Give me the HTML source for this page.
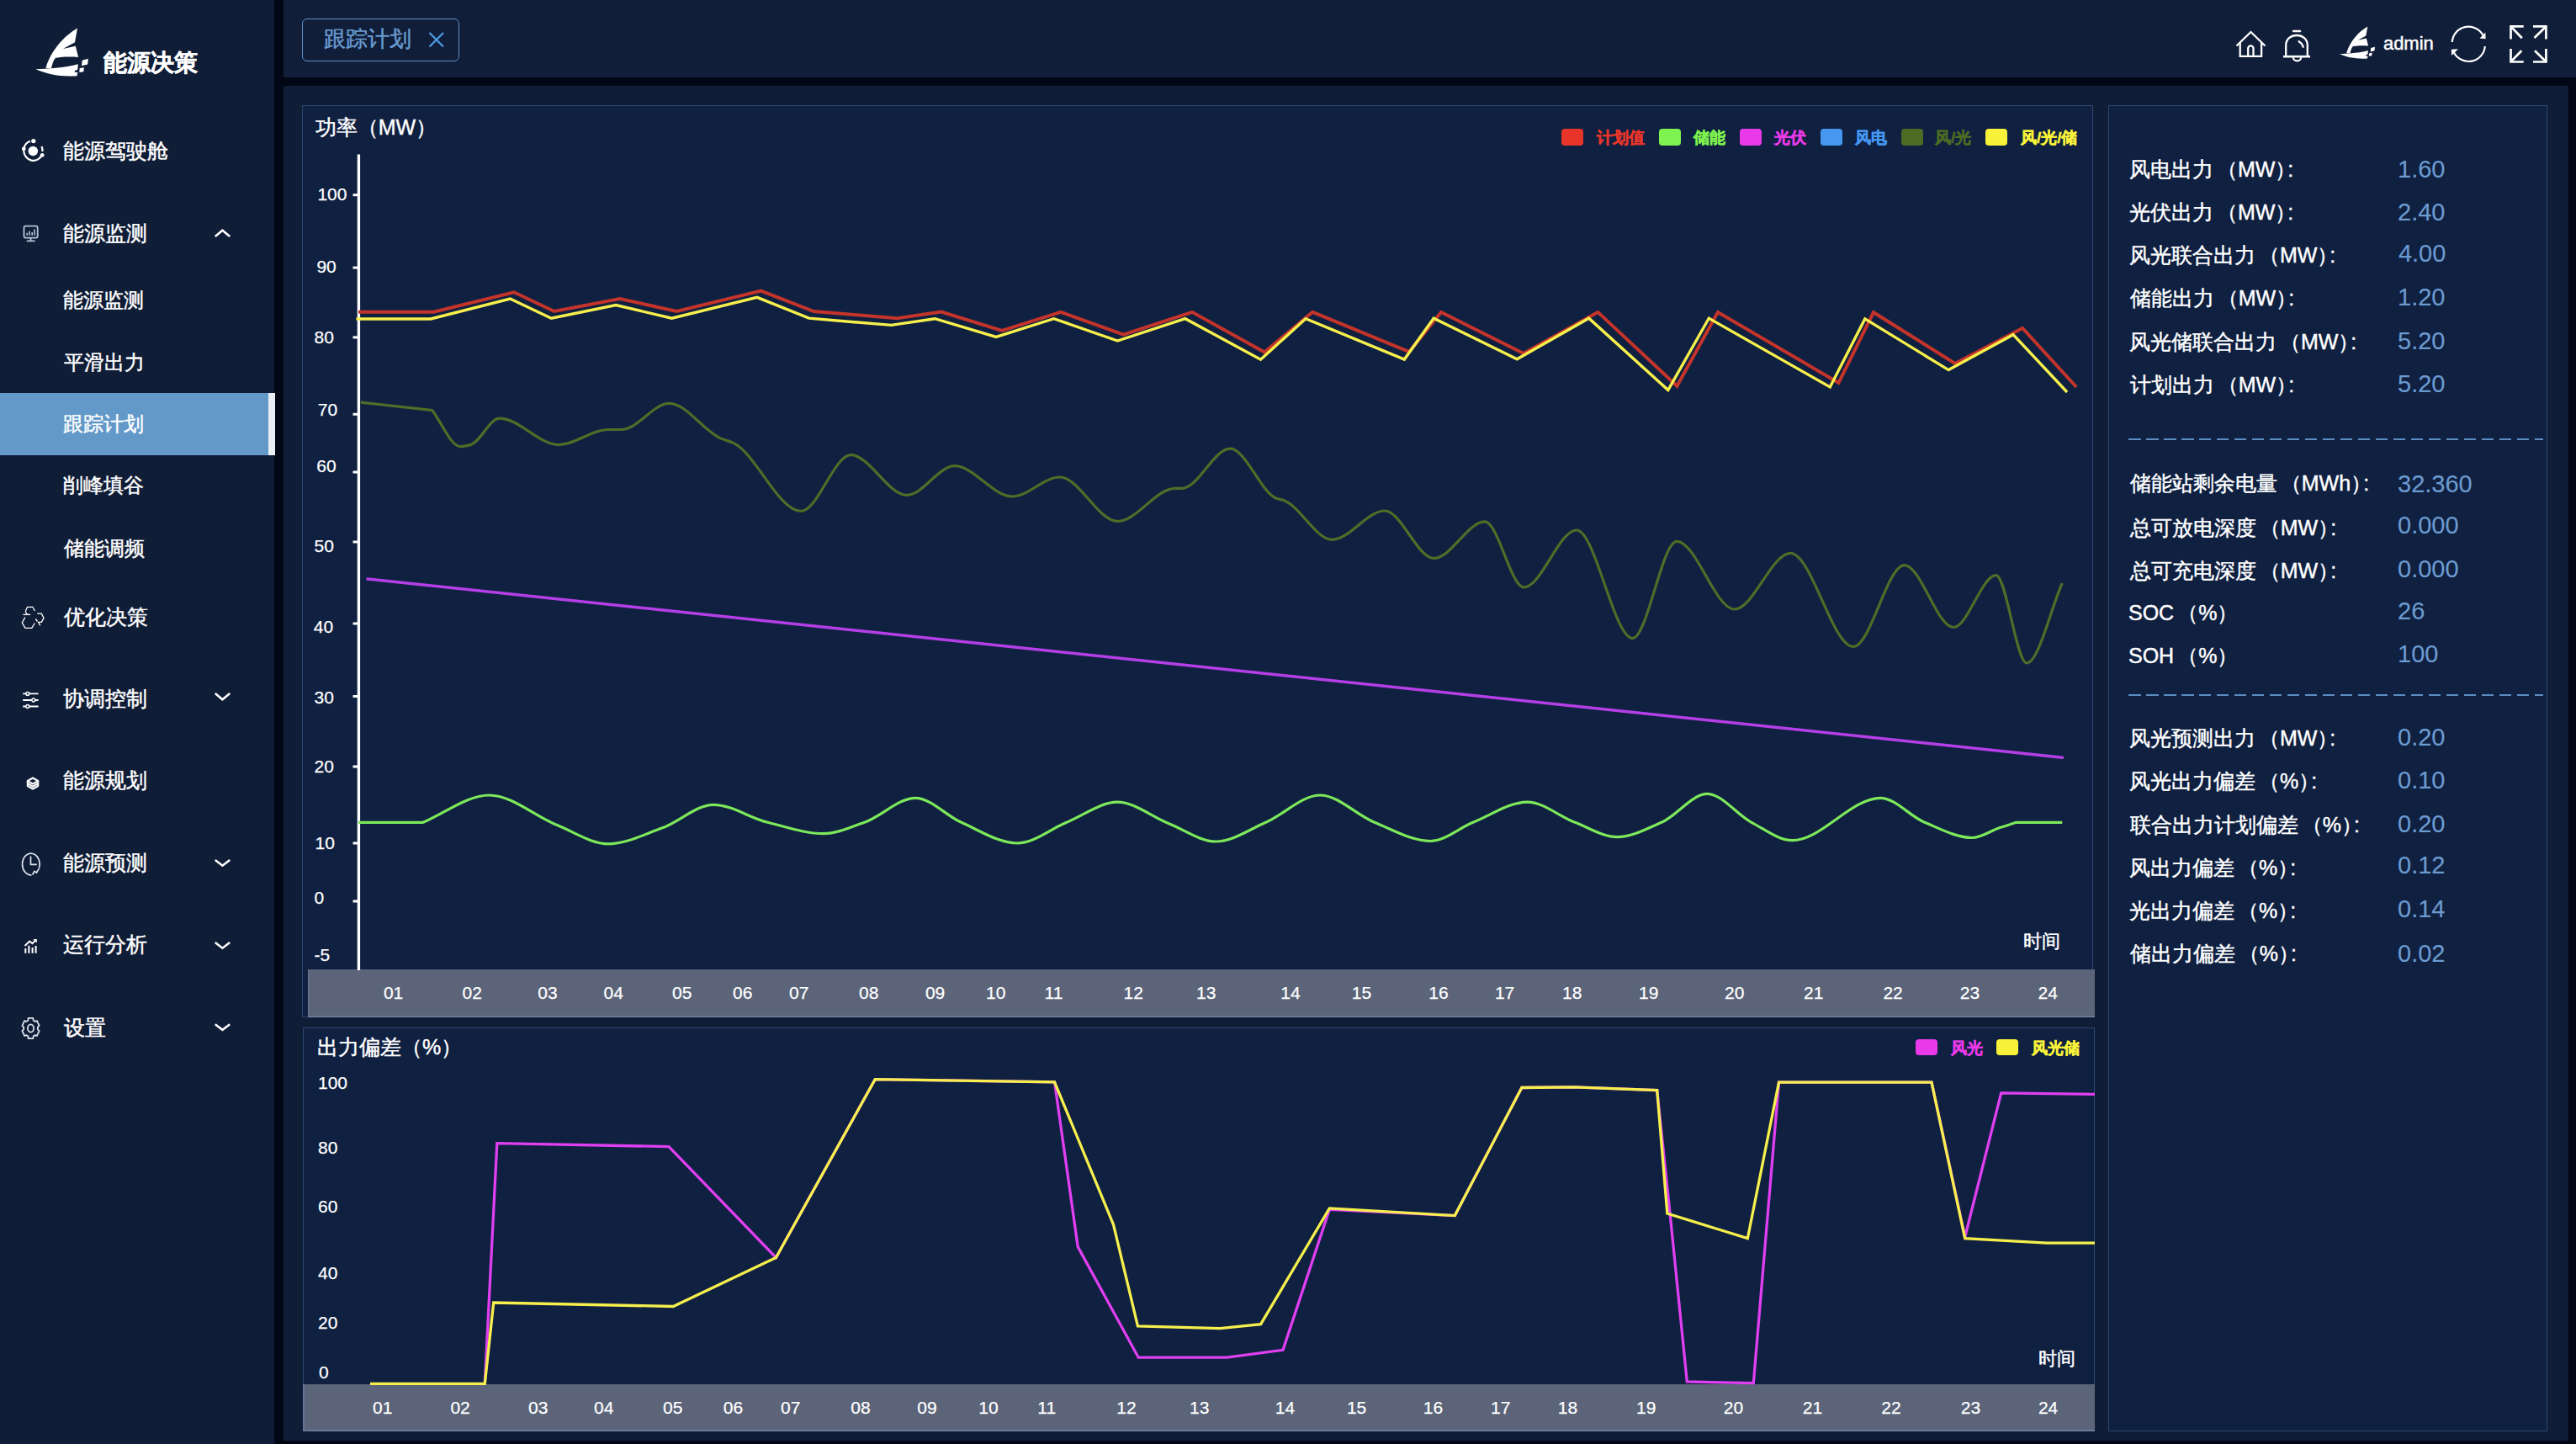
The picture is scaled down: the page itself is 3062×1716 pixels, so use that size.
<!DOCTYPE html>
<html><head><meta charset="utf-8"><title>跟踪计划</title>
<style>
html,body{margin:0;padding:0;width:3062px;height:1716px;overflow:hidden;background:#020716;}
.t{position:absolute;white-space:nowrap;font-family:'Liberation Sans', sans-serif;-webkit-text-stroke:0.45px currentColor;}
.r{position:absolute;}
.ov{position:absolute;left:0;top:0;}
</style></head><body>
<div class="r" style="left:0px;top:0px;width:3062px;height:1716px;background:#020716;"></div>
<div class="r" style="left:0px;top:0px;width:326px;height:1716px;background:#101d37;"></div>
<div class="r" style="left:337px;top:0px;width:2725px;height:92px;background:#111e39;"></div>
<div class="r" style="left:337px;top:102px;width:2716px;height:1610px;background:#101d37;"></div>
<div class="r" style="left:359px;top:125px;width:2129px;height:1084px;background:#0f2041;box-shadow: inset 0 0 0 1px #2d4873;"></div>
<div class="r" style="left:360px;top:1221px;width:2130px;height:480px;background:#0f2041;box-shadow: inset 0 0 0 1px #2d4873;"></div>
<div class="r" style="left:2506px;top:125px;width:522px;height:1576px;background:#0f2041;box-shadow: inset 0 0 0 1px #2d4873;"></div>
<div class="r" style="left:366px;top:1152px;width:2124px;height:57px;background:#5b6479;box-shadow: inset 1px 0 0 0 #6a7896, inset 0 -1.5px 0 0 #7081a1;"></div>
<div class="r" style="left:360px;top:1645px;width:2130px;height:56px;background:#5b6479;box-shadow: inset 2px 0 0 0 #66759a, inset 0 -1.5px 0 0 #7383a3;"></div>
<div class="r" style="left:0px;top:467px;width:319px;height:74px;background:#6399c9;"></div>
<div class="r" style="left:319px;top:467px;width:8px;height:74px;background:#e9eef4;"></div>
<div id="t1" class="t" style="left:122.8px;top:60.0px;font-size:28.2px;line-height:28.2px;color:#ffffff;font-weight:bold;">能源决策</div>
<div id="t2" class="t" style="left:74.5px;top:167.1px;font-size:25.4px;line-height:25.4px;color:#ffffff;font-weight:normal;">能源驾驶舱</div>
<div id="t3" class="t" style="left:74.5px;top:265.3px;font-size:25.4px;line-height:25.4px;color:#ffffff;font-weight:normal;">能源监测</div>
<div id="t4" class="t" style="left:74.9px;top:344.7px;font-size:24px;line-height:24px;color:#ffffff;font-weight:normal;">能源监测</div>
<div id="t5" class="t" style="left:75.8px;top:419.2px;font-size:24px;line-height:24px;color:#ffffff;font-weight:normal;">平滑出力</div>
<div id="t6" class="t" style="left:74.9px;top:491.6px;font-size:24px;line-height:24px;color:#ffffff;font-weight:normal;">跟踪计划</div>
<div id="t7" class="t" style="left:74.9px;top:565.3px;font-size:24px;line-height:24px;color:#ffffff;font-weight:normal;">削峰填谷</div>
<div id="t8" class="t" style="left:75.8px;top:639.8px;font-size:24px;line-height:24px;color:#ffffff;font-weight:normal;">储能调频</div>
<div id="t9" class="t" style="left:76.3px;top:720.7px;font-size:25.4px;line-height:25.4px;color:#ffffff;font-weight:normal;">优化决策</div>
<div id="t10" class="t" style="left:75.4px;top:818.3px;font-size:25.4px;line-height:25.4px;color:#ffffff;font-weight:normal;">协调控制</div>
<div id="t11" class="t" style="left:75.4px;top:915.3px;font-size:25.4px;line-height:25.4px;color:#ffffff;font-weight:normal;">能源规划</div>
<div id="t12" class="t" style="left:75.4px;top:1012.7px;font-size:25.4px;line-height:25.4px;color:#ffffff;font-weight:normal;">能源预测</div>
<div id="t13" class="t" style="left:75.4px;top:1109.8px;font-size:25.4px;line-height:25.4px;color:#ffffff;font-weight:normal;">运行分析</div>
<div id="t14" class="t" style="left:76.3px;top:1209.2px;font-size:25.4px;line-height:25.4px;color:#ffffff;font-weight:normal;">设置</div>
<div class="r" style="left:359px;top:22px;width:187px;height:51px;border:1.5px solid #5d8ec4;border-radius:6px;box-sizing:border-box;"></div>
<div id="t15" class="t" style="left:384.9px;top:33.0px;font-size:26px;line-height:26px;color:#6a9dd2;font-weight:normal;">跟踪计划</div>
<div id="t16" class="t" style="left:2832.9px;top:41.0px;font-size:22px;line-height:22px;color:#ffffff;font-weight:normal;">admin</div>
<div id="t17" class="t" style="left:374.8px;top:139.0px;font-size:25px;line-height:25px;color:#ffffff;font-weight:normal;">功率（MW）</div>
<div id="t18" class="t" style="left:377.4px;top:219.8px;font-size:21px;line-height:21px;color:#ffffff;font-weight:normal;-webkit-text-stroke:0.25px currentColor;">100</div>
<div id="t19" class="t" style="left:376.4px;top:306.2px;font-size:21px;line-height:21px;color:#ffffff;font-weight:normal;-webkit-text-stroke:0.25px currentColor;">90</div>
<div id="t20" class="t" style="left:373.6px;top:389.9px;font-size:21px;line-height:21px;color:#ffffff;font-weight:normal;-webkit-text-stroke:0.25px currentColor;">80</div>
<div id="t21" class="t" style="left:377.8px;top:475.6px;font-size:21px;line-height:21px;color:#ffffff;font-weight:normal;-webkit-text-stroke:0.25px currentColor;">70</div>
<div id="t22" class="t" style="left:376.3px;top:542.6px;font-size:21px;line-height:21px;color:#ffffff;font-weight:normal;-webkit-text-stroke:0.25px currentColor;">60</div>
<div id="t23" class="t" style="left:373.6px;top:638.2px;font-size:21px;line-height:21px;color:#ffffff;font-weight:normal;-webkit-text-stroke:0.25px currentColor;">50</div>
<div id="t24" class="t" style="left:372.8px;top:733.6px;font-size:21px;line-height:21px;color:#ffffff;font-weight:normal;-webkit-text-stroke:0.25px currentColor;">40</div>
<div id="t25" class="t" style="left:373.6px;top:817.8px;font-size:21px;line-height:21px;color:#ffffff;font-weight:normal;-webkit-text-stroke:0.25px currentColor;">30</div>
<div id="t26" class="t" style="left:373.6px;top:900.4px;font-size:21px;line-height:21px;color:#ffffff;font-weight:normal;-webkit-text-stroke:0.25px currentColor;">20</div>
<div id="t27" class="t" style="left:374.6px;top:990.6px;font-size:21px;line-height:21px;color:#ffffff;font-weight:normal;-webkit-text-stroke:0.25px currentColor;">10</div>
<div id="t28" class="t" style="left:373.6px;top:1056.0px;font-size:21px;line-height:21px;color:#ffffff;font-weight:normal;-webkit-text-stroke:0.25px currentColor;">0</div>
<div id="t29" class="t" style="left:373.6px;top:1123.8px;font-size:21px;line-height:21px;color:#ffffff;font-weight:normal;-webkit-text-stroke:0.25px currentColor;">-5</div>
<div id="t30" class="t" style="left:267.6px;width:400px;text-align:center;top:1169.0px;font-size:21px;line-height:21px;color:#ffffff;font-weight:normal;-webkit-text-stroke:0.25px currentColor;">01</div>
<div id="t31" class="t" style="left:361.3px;width:400px;text-align:center;top:1169.0px;font-size:21px;line-height:21px;color:#ffffff;font-weight:normal;-webkit-text-stroke:0.25px currentColor;">02</div>
<div id="t32" class="t" style="left:450.9px;width:400px;text-align:center;top:1169.0px;font-size:21px;line-height:21px;color:#ffffff;font-weight:normal;-webkit-text-stroke:0.25px currentColor;">03</div>
<div id="t33" class="t" style="left:529.2px;width:400px;text-align:center;top:1169.0px;font-size:21px;line-height:21px;color:#ffffff;font-weight:normal;-webkit-text-stroke:0.25px currentColor;">04</div>
<div id="t34" class="t" style="left:610.8px;width:400px;text-align:center;top:1169.0px;font-size:21px;line-height:21px;color:#ffffff;font-weight:normal;-webkit-text-stroke:0.25px currentColor;">05</div>
<div id="t35" class="t" style="left:682.7px;width:400px;text-align:center;top:1169.0px;font-size:21px;line-height:21px;color:#ffffff;font-weight:normal;-webkit-text-stroke:0.25px currentColor;">06</div>
<div id="t36" class="t" style="left:749.7px;width:400px;text-align:center;top:1169.0px;font-size:21px;line-height:21px;color:#ffffff;font-weight:normal;-webkit-text-stroke:0.25px currentColor;">07</div>
<div id="t37" class="t" style="left:832.8px;width:400px;text-align:center;top:1168.6px;font-size:21px;line-height:21px;color:#ffffff;font-weight:normal;-webkit-text-stroke:0.25px currentColor;">08</div>
<div id="t38" class="t" style="left:911.6px;width:400px;text-align:center;top:1169.0px;font-size:21px;line-height:21px;color:#ffffff;font-weight:normal;-webkit-text-stroke:0.25px currentColor;">09</div>
<div id="t39" class="t" style="left:983.8px;width:400px;text-align:center;top:1169.0px;font-size:21px;line-height:21px;color:#ffffff;font-weight:normal;-webkit-text-stroke:0.25px currentColor;">10</div>
<div id="t40" class="t" style="left:1052.5px;width:400px;text-align:center;top:1169.0px;font-size:21px;line-height:21px;color:#ffffff;font-weight:normal;-webkit-text-stroke:0.25px currentColor;">11</div>
<div id="t41" class="t" style="left:1147.3px;width:400px;text-align:center;top:1169.0px;font-size:21px;line-height:21px;color:#ffffff;font-weight:normal;-webkit-text-stroke:0.25px currentColor;">12</div>
<div id="t42" class="t" style="left:1233.8px;width:400px;text-align:center;top:1169.0px;font-size:21px;line-height:21px;color:#ffffff;font-weight:normal;-webkit-text-stroke:0.25px currentColor;">13</div>
<div id="t43" class="t" style="left:1334.0px;width:400px;text-align:center;top:1169.0px;font-size:21px;line-height:21px;color:#ffffff;font-weight:normal;-webkit-text-stroke:0.25px currentColor;">14</div>
<div id="t44" class="t" style="left:1418.5px;width:400px;text-align:center;top:1169.0px;font-size:21px;line-height:21px;color:#ffffff;font-weight:normal;-webkit-text-stroke:0.25px currentColor;">15</div>
<div id="t45" class="t" style="left:1510.0px;width:400px;text-align:center;top:1169.0px;font-size:21px;line-height:21px;color:#ffffff;font-weight:normal;-webkit-text-stroke:0.25px currentColor;">16</div>
<div id="t46" class="t" style="left:1588.6px;width:400px;text-align:center;top:1169.0px;font-size:21px;line-height:21px;color:#ffffff;font-weight:normal;-webkit-text-stroke:0.25px currentColor;">17</div>
<div id="t47" class="t" style="left:1668.8px;width:400px;text-align:center;top:1169.0px;font-size:21px;line-height:21px;color:#ffffff;font-weight:normal;-webkit-text-stroke:0.25px currentColor;">18</div>
<div id="t48" class="t" style="left:1759.8px;width:400px;text-align:center;top:1169.0px;font-size:21px;line-height:21px;color:#ffffff;font-weight:normal;-webkit-text-stroke:0.25px currentColor;">19</div>
<div id="t49" class="t" style="left:1861.8px;width:400px;text-align:center;top:1169.0px;font-size:21px;line-height:21px;color:#ffffff;font-weight:normal;-webkit-text-stroke:0.25px currentColor;">20</div>
<div id="t50" class="t" style="left:1955.8px;width:400px;text-align:center;top:1169.0px;font-size:21px;line-height:21px;color:#ffffff;font-weight:normal;-webkit-text-stroke:0.25px currentColor;">21</div>
<div id="t51" class="t" style="left:2050.1px;width:400px;text-align:center;top:1169.0px;font-size:21px;line-height:21px;color:#ffffff;font-weight:normal;-webkit-text-stroke:0.25px currentColor;">22</div>
<div id="t52" class="t" style="left:2141.5px;width:400px;text-align:center;top:1169.0px;font-size:21px;line-height:21px;color:#ffffff;font-weight:normal;-webkit-text-stroke:0.25px currentColor;">23</div>
<div id="t53" class="t" style="left:2234.2px;width:400px;text-align:center;top:1169.0px;font-size:21px;line-height:21px;color:#ffffff;font-weight:normal;-webkit-text-stroke:0.25px currentColor;">24</div>
<div id="t54" class="t" style="left:2404.9px;top:1107.9px;font-size:22px;line-height:22px;color:#ffffff;font-weight:normal;">时间</div>
<div class="r" style="left:1856px;top:153px;width:26px;height:20px;background:#e8352a;border-radius:4px;"></div>
<div id="t55" class="t" style="left:1897.9px;top:153.5px;font-size:19px;line-height:19px;color:#e8352a;font-weight:bold;">计划值</div>
<div class="r" style="left:1972px;top:153px;width:26px;height:20px;background:#7ef24e;border-radius:4px;"></div>
<div id="t56" class="t" style="left:2012.9px;top:154.4px;font-size:19px;line-height:19px;color:#7ef24e;font-weight:bold;">储能</div>
<div class="r" style="left:2068px;top:153px;width:26px;height:20px;background:#e83ae8;border-radius:4px;"></div>
<div id="t57" class="t" style="left:2108.9px;top:154.4px;font-size:19px;line-height:19px;color:#e83ae8;font-weight:bold;">光伏</div>
<div class="r" style="left:2164px;top:153px;width:26px;height:20px;background:#4597f0;border-radius:4px;"></div>
<div id="t58" class="t" style="left:2204.9px;top:154.4px;font-size:19px;line-height:19px;color:#4597f0;font-weight:bold;">风电</div>
<div class="r" style="left:2260px;top:153px;width:26px;height:20px;background:#4d6b22;border-radius:4px;"></div>
<div id="t59" class="t" style="left:2300.0px;top:153.5px;font-size:19px;line-height:19px;color:#4d6b22;font-weight:bold;">风/光</div>
<div class="r" style="left:2360px;top:153px;width:26px;height:20px;background:#f9f23a;border-radius:4px;"></div>
<div id="t60" class="t" style="left:2401.9px;top:154.4px;font-size:19px;line-height:19px;color:#f9f23a;font-weight:bold;">风/光/储</div>
<div id="t61" class="t" style="left:377.1px;top:1231.6px;font-size:25px;line-height:25px;color:#ffffff;font-weight:normal;">出力偏差（%）</div>
<div id="t62" class="t" style="left:378.0px;top:1275.6px;font-size:21px;line-height:21px;color:#ffffff;font-weight:normal;-webkit-text-stroke:0.25px currentColor;">100</div>
<div id="t63" class="t" style="left:378.0px;top:1352.5px;font-size:21px;line-height:21px;color:#ffffff;font-weight:normal;-webkit-text-stroke:0.25px currentColor;">80</div>
<div id="t64" class="t" style="left:378.0px;top:1422.9px;font-size:21px;line-height:21px;color:#ffffff;font-weight:normal;-webkit-text-stroke:0.25px currentColor;">60</div>
<div id="t65" class="t" style="left:378.0px;top:1502.3px;font-size:21px;line-height:21px;color:#ffffff;font-weight:normal;-webkit-text-stroke:0.25px currentColor;">40</div>
<div id="t66" class="t" style="left:378.0px;top:1560.7px;font-size:21px;line-height:21px;color:#ffffff;font-weight:normal;-webkit-text-stroke:0.25px currentColor;">20</div>
<div id="t67" class="t" style="left:378.9px;top:1619.5px;font-size:21px;line-height:21px;color:#ffffff;font-weight:normal;-webkit-text-stroke:0.25px currentColor;">0</div>
<div id="t68" class="t" style="left:254.8px;width:400px;text-align:center;top:1662.0px;font-size:21px;line-height:21px;color:#ffffff;font-weight:normal;-webkit-text-stroke:0.25px currentColor;">01</div>
<div id="t69" class="t" style="left:347.1px;width:400px;text-align:center;top:1662.0px;font-size:21px;line-height:21px;color:#ffffff;font-weight:normal;-webkit-text-stroke:0.25px currentColor;">02</div>
<div id="t70" class="t" style="left:439.7px;width:400px;text-align:center;top:1662.0px;font-size:21px;line-height:21px;color:#ffffff;font-weight:normal;-webkit-text-stroke:0.25px currentColor;">03</div>
<div id="t71" class="t" style="left:517.8px;width:400px;text-align:center;top:1662.0px;font-size:21px;line-height:21px;color:#ffffff;font-weight:normal;-webkit-text-stroke:0.25px currentColor;">04</div>
<div id="t72" class="t" style="left:599.8px;width:400px;text-align:center;top:1662.0px;font-size:21px;line-height:21px;color:#ffffff;font-weight:normal;-webkit-text-stroke:0.25px currentColor;">05</div>
<div id="t73" class="t" style="left:671.5px;width:400px;text-align:center;top:1662.0px;font-size:21px;line-height:21px;color:#ffffff;font-weight:normal;-webkit-text-stroke:0.25px currentColor;">06</div>
<div id="t74" class="t" style="left:739.8px;width:400px;text-align:center;top:1662.0px;font-size:21px;line-height:21px;color:#ffffff;font-weight:normal;-webkit-text-stroke:0.25px currentColor;">07</div>
<div id="t75" class="t" style="left:823.0px;width:400px;text-align:center;top:1662.0px;font-size:21px;line-height:21px;color:#ffffff;font-weight:normal;-webkit-text-stroke:0.25px currentColor;">08</div>
<div id="t76" class="t" style="left:902.0px;width:400px;text-align:center;top:1662.0px;font-size:21px;line-height:21px;color:#ffffff;font-weight:normal;-webkit-text-stroke:0.25px currentColor;">09</div>
<div id="t77" class="t" style="left:975.0px;width:400px;text-align:center;top:1662.0px;font-size:21px;line-height:21px;color:#ffffff;font-weight:normal;-webkit-text-stroke:0.25px currentColor;">10</div>
<div id="t78" class="t" style="left:1044.2px;width:400px;text-align:center;top:1662.0px;font-size:21px;line-height:21px;color:#ffffff;font-weight:normal;-webkit-text-stroke:0.25px currentColor;">11</div>
<div id="t79" class="t" style="left:1139.0px;width:400px;text-align:center;top:1662.0px;font-size:21px;line-height:21px;color:#ffffff;font-weight:normal;-webkit-text-stroke:0.25px currentColor;">12</div>
<div id="t80" class="t" style="left:1225.7px;width:400px;text-align:center;top:1662.0px;font-size:21px;line-height:21px;color:#ffffff;font-weight:normal;-webkit-text-stroke:0.25px currentColor;">13</div>
<div id="t81" class="t" style="left:1327.5px;width:400px;text-align:center;top:1662.0px;font-size:21px;line-height:21px;color:#ffffff;font-weight:normal;-webkit-text-stroke:0.25px currentColor;">14</div>
<div id="t82" class="t" style="left:1412.6px;width:400px;text-align:center;top:1662.0px;font-size:21px;line-height:21px;color:#ffffff;font-weight:normal;-webkit-text-stroke:0.25px currentColor;">15</div>
<div id="t83" class="t" style="left:1503.5px;width:400px;text-align:center;top:1662.0px;font-size:21px;line-height:21px;color:#ffffff;font-weight:normal;-webkit-text-stroke:0.25px currentColor;">16</div>
<div id="t84" class="t" style="left:1583.8px;width:400px;text-align:center;top:1662.0px;font-size:21px;line-height:21px;color:#ffffff;font-weight:normal;-webkit-text-stroke:0.25px currentColor;">17</div>
<div id="t85" class="t" style="left:1663.5px;width:400px;text-align:center;top:1662.0px;font-size:21px;line-height:21px;color:#ffffff;font-weight:normal;-webkit-text-stroke:0.25px currentColor;">18</div>
<div id="t86" class="t" style="left:1756.8px;width:400px;text-align:center;top:1662.0px;font-size:21px;line-height:21px;color:#ffffff;font-weight:normal;-webkit-text-stroke:0.25px currentColor;">19</div>
<div id="t87" class="t" style="left:1860.5px;width:400px;text-align:center;top:1662.0px;font-size:21px;line-height:21px;color:#ffffff;font-weight:normal;-webkit-text-stroke:0.25px currentColor;">20</div>
<div id="t88" class="t" style="left:1954.5px;width:400px;text-align:center;top:1662.0px;font-size:21px;line-height:21px;color:#ffffff;font-weight:normal;-webkit-text-stroke:0.25px currentColor;">21</div>
<div id="t89" class="t" style="left:2048.0px;width:400px;text-align:center;top:1662.0px;font-size:21px;line-height:21px;color:#ffffff;font-weight:normal;-webkit-text-stroke:0.25px currentColor;">22</div>
<div id="t90" class="t" style="left:2142.4px;width:400px;text-align:center;top:1662.0px;font-size:21px;line-height:21px;color:#ffffff;font-weight:normal;-webkit-text-stroke:0.25px currentColor;">23</div>
<div id="t91" class="t" style="left:2234.6px;width:400px;text-align:center;top:1662.0px;font-size:21px;line-height:21px;color:#ffffff;font-weight:normal;-webkit-text-stroke:0.25px currentColor;">24</div>
<div id="t92" class="t" style="left:2423.0px;top:1603.8px;font-size:22px;line-height:22px;color:#ffffff;font-weight:normal;">时间</div>
<div class="r" style="left:2277px;top:1235px;width:26px;height:19px;background:#e83ae8;border-radius:4px;"></div>
<div id="t93" class="t" style="left:2318.9px;top:1235.5px;font-size:19px;line-height:19px;color:#e83ae8;font-weight:bold;">风光</div>
<div class="r" style="left:2373px;top:1235px;width:26px;height:19px;background:#f9f23a;border-radius:4px;"></div>
<div id="t94" class="t" style="left:2414.9px;top:1235.5px;font-size:19px;line-height:19px;color:#f9f23a;font-weight:bold;">风光储</div>
<div id="t95" class="t" style="left:2530.9px;top:189.1px;font-size:25px;line-height:25px;color:#ffffff;font-weight:normal;">风电出力<span style="margin-left:4px">（</span>MW）<span style="margin-left:-10px">:</span></div>
<div id="t96" class="t" style="left:2850.0px;top:186.5px;font-size:29px;line-height:29px;color:#6c9bd0;font-weight:normal;-webkit-text-stroke:0.15px currentColor;">1.60</div>
<div id="t97" class="t" style="left:2530.9px;top:240.4px;font-size:25px;line-height:25px;color:#ffffff;font-weight:normal;">光伏出力<span style="margin-left:4px">（</span>MW）<span style="margin-left:-10px">:</span></div>
<div id="t98" class="t" style="left:2850.0px;top:237.5px;font-size:29px;line-height:29px;color:#6c9bd0;font-weight:normal;-webkit-text-stroke:0.15px currentColor;">2.40</div>
<div id="t99" class="t" style="left:2530.9px;top:291.1px;font-size:25px;line-height:25px;color:#ffffff;font-weight:normal;">风光联合出力<span style="margin-left:4px">（</span>MW）<span style="margin-left:-10px">:</span></div>
<div id="t100" class="t" style="left:2850.9px;top:287.3px;font-size:29px;line-height:29px;color:#6c9bd0;font-weight:normal;-webkit-text-stroke:0.15px currentColor;">4.00</div>
<div id="t101" class="t" style="left:2531.8px;top:342.1px;font-size:25px;line-height:25px;color:#ffffff;font-weight:normal;">储能出力<span style="margin-left:4px">（</span>MW）<span style="margin-left:-10px">:</span></div>
<div id="t102" class="t" style="left:2850.0px;top:338.7px;font-size:29px;line-height:29px;color:#6c9bd0;font-weight:normal;-webkit-text-stroke:0.15px currentColor;">1.20</div>
<div id="t103" class="t" style="left:2530.9px;top:394.1px;font-size:25px;line-height:25px;color:#ffffff;font-weight:normal;">风光储联合出力<span style="margin-left:4px">（</span>MW）<span style="margin-left:-10px">:</span></div>
<div id="t104" class="t" style="left:2850.0px;top:390.5px;font-size:29px;line-height:29px;color:#6c9bd0;font-weight:normal;-webkit-text-stroke:0.15px currentColor;">5.20</div>
<div id="t105" class="t" style="left:2531.8px;top:444.6px;font-size:25px;line-height:25px;color:#ffffff;font-weight:normal;">计划出力<span style="margin-left:4px">（</span>MW）<span style="margin-left:-10px">:</span></div>
<div id="t106" class="t" style="left:2850.0px;top:441.8px;font-size:29px;line-height:29px;color:#6c9bd0;font-weight:normal;-webkit-text-stroke:0.15px currentColor;">5.20</div>
<div id="t107" class="t" style="left:2531.8px;top:562.1px;font-size:25px;line-height:25px;color:#ffffff;font-weight:normal;">储能站剩余电量<span style="margin-left:4px">（</span>MWh）<span style="margin-left:-10px">:</span></div>
<div id="t108" class="t" style="left:2850.0px;top:560.6px;font-size:29px;line-height:29px;color:#6c9bd0;font-weight:normal;-webkit-text-stroke:0.15px currentColor;">32.360</div>
<div id="t109" class="t" style="left:2531.8px;top:614.9px;font-size:25px;line-height:25px;color:#ffffff;font-weight:normal;">总可放电深度<span style="margin-left:4px">（</span>MW）<span style="margin-left:-10px">:</span></div>
<div id="t110" class="t" style="left:2850.0px;top:610.2px;font-size:29px;line-height:29px;color:#6c9bd0;font-weight:normal;-webkit-text-stroke:0.15px currentColor;">0.000</div>
<div id="t111" class="t" style="left:2531.8px;top:666.2px;font-size:25px;line-height:25px;color:#ffffff;font-weight:normal;">总可充电深度<span style="margin-left:4px">（</span>MW）<span style="margin-left:-10px">:</span></div>
<div id="t112" class="t" style="left:2850.0px;top:661.5px;font-size:29px;line-height:29px;color:#6c9bd0;font-weight:normal;-webkit-text-stroke:0.15px currentColor;">0.000</div>
<div id="t113" class="t" style="left:2530.0px;top:715.7px;font-size:25px;line-height:25px;color:#ffffff;font-weight:normal;">SOC<span style="margin-left:4px">（</span>%）</div>
<div id="t114" class="t" style="left:2850.0px;top:711.6px;font-size:29px;line-height:29px;color:#6c9bd0;font-weight:normal;-webkit-text-stroke:0.15px currentColor;">26</div>
<div id="t115" class="t" style="left:2530.0px;top:767.0px;font-size:25px;line-height:25px;color:#ffffff;font-weight:normal;">SOH<span style="margin-left:4px">（</span>%）</div>
<div id="t116" class="t" style="left:2850.0px;top:763.4px;font-size:29px;line-height:29px;color:#6c9bd0;font-weight:normal;-webkit-text-stroke:0.15px currentColor;">100</div>
<div id="t117" class="t" style="left:2530.9px;top:865.3px;font-size:25px;line-height:25px;color:#ffffff;font-weight:normal;">风光预测出力<span style="margin-left:4px">（</span>MW）<span style="margin-left:-10px">:</span></div>
<div id="t118" class="t" style="left:2850.0px;top:862.3px;font-size:29px;line-height:29px;color:#6c9bd0;font-weight:normal;-webkit-text-stroke:0.15px currentColor;">0.20</div>
<div id="t119" class="t" style="left:2530.9px;top:916.4px;font-size:25px;line-height:25px;color:#ffffff;font-weight:normal;">风光出力偏差<span style="margin-left:4px">（</span>%）<span style="margin-left:-10px">:</span></div>
<div id="t120" class="t" style="left:2850.0px;top:913.4px;font-size:29px;line-height:29px;color:#6c9bd0;font-weight:normal;-webkit-text-stroke:0.15px currentColor;">0.10</div>
<div id="t121" class="t" style="left:2531.8px;top:967.5px;font-size:25px;line-height:25px;color:#ffffff;font-weight:normal;">联合出力计划偏差<span style="margin-left:4px">（</span>%）<span style="margin-left:-10px">:</span></div>
<div id="t122" class="t" style="left:2850.0px;top:964.5px;font-size:29px;line-height:29px;color:#6c9bd0;font-weight:normal;-webkit-text-stroke:0.15px currentColor;">0.20</div>
<div id="t123" class="t" style="left:2530.9px;top:1018.6px;font-size:25px;line-height:25px;color:#ffffff;font-weight:normal;">风出力偏差<span style="margin-left:4px">（</span>%）<span style="margin-left:-10px">:</span></div>
<div id="t124" class="t" style="left:2850.0px;top:1014.4px;font-size:29px;line-height:29px;color:#6c9bd0;font-weight:normal;-webkit-text-stroke:0.15px currentColor;">0.12</div>
<div id="t125" class="t" style="left:2530.9px;top:1069.7px;font-size:25px;line-height:25px;color:#ffffff;font-weight:normal;">光出力偏差<span style="margin-left:4px">（</span>%）<span style="margin-left:-10px">:</span></div>
<div id="t126" class="t" style="left:2850.0px;top:1066.1px;font-size:29px;line-height:29px;color:#6c9bd0;font-weight:normal;-webkit-text-stroke:0.15px currentColor;">0.14</div>
<div id="t127" class="t" style="left:2531.8px;top:1120.9px;font-size:25px;line-height:25px;color:#ffffff;font-weight:normal;">储出力偏差<span style="margin-left:4px">（</span>%）<span style="margin-left:-10px">:</span></div>
<div id="t128" class="t" style="left:2850.0px;top:1118.8px;font-size:29px;line-height:29px;color:#6c9bd0;font-weight:normal;-webkit-text-stroke:0.15px currentColor;">0.02</div>
<div class="r" style="left:2530px;top:520.6px;width:493px;height:2px;background:repeating-linear-gradient(90deg,#5b8cc2 0 14.5px,transparent 14.5px 21px);"></div>
<div class="r" style="left:2530px;top:825.0px;width:493px;height:2px;background:repeating-linear-gradient(90deg,#5b8cc2 0 14.5px,transparent 14.5px 21px);"></div>
<svg class="ov" width="3062" height="1716" viewBox="0 0 3062 1716">
<line x1="426.4" y1="183.5" x2="426.4" y2="1153" stroke="#fff" stroke-width="3.4"/>
<line x1="419.5" y1="231.7" x2="426" y2="231.7" stroke="#fff" stroke-width="3"/>
<line x1="419.5" y1="318.1" x2="426" y2="318.1" stroke="#fff" stroke-width="3"/>
<line x1="419.5" y1="400.9" x2="426" y2="400.9" stroke="#fff" stroke-width="3"/>
<line x1="419.5" y1="492.3" x2="426" y2="492.3" stroke="#fff" stroke-width="3"/>
<line x1="419.5" y1="561" x2="426" y2="561" stroke="#fff" stroke-width="3"/>
<line x1="419.5" y1="644" x2="426" y2="644" stroke="#fff" stroke-width="3"/>
<line x1="419.5" y1="741" x2="426" y2="741" stroke="#fff" stroke-width="3"/>
<line x1="419.5" y1="827.5" x2="426" y2="827.5" stroke="#fff" stroke-width="3"/>
<line x1="419.5" y1="911" x2="426" y2="911" stroke="#fff" stroke-width="3"/>
<line x1="419.5" y1="1002" x2="426" y2="1002" stroke="#fff" stroke-width="3"/>
<line x1="419.5" y1="1071" x2="426" y2="1071" stroke="#fff" stroke-width="3"/>
<path d="M428.9,478.2 L513.7,487.5  C524.9,501.9 536.0,530.6 547.2,530.6 C551.2,530.6 555.3,529.6 559.3,528.6 C570.7,525.7 582.2,497.1 593.6,497.1 C617.1,497.1 640.7,528.6 664.2,528.6 C683.7,528.6 703.3,510.5 722.8,510.5 C728.2,510.5 733.5,510.5 738.9,510.5 C757.8,510.5 776.6,479.4 795.5,479.4 C815.7,479.4 835.8,511.4 856.0,520.6 C861.4,523.1 866.8,523.9 872.2,526.6 C898.8,539.7 925.5,607.4 952.1,607.4 C971.9,607.4 991.6,540.7 1011.4,540.7 C1033.6,540.7 1055.8,588.4 1078.0,588.4 C1096.9,588.4 1115.7,553.7 1134.6,553.7 C1157.5,553.7 1180.3,590.0 1203.2,590.0 C1222.0,590.0 1240.9,567.0 1259.7,567.0 C1282.6,567.0 1305.4,619.5 1328.3,619.5 C1351.2,619.5 1374.1,580.3 1397.0,580.3 C1399.7,580.3 1402.3,580.3 1405.0,580.3 C1424.1,580.3 1443.1,533.1 1462.2,533.1 C1480.4,533.1 1498.5,584.7 1516.7,592.0 C1520.1,593.3 1523.4,593.6 1526.8,594.9 C1545.6,602.1 1564.5,641.3 1583.3,641.3 C1604.2,641.3 1625.0,607.0 1645.9,607.0 C1665.4,607.0 1684.9,663.5 1704.4,663.5 C1724.6,663.5 1744.8,619.9 1765.0,619.9 C1780.5,619.9 1795.9,697.8 1811.4,697.8 C1832.3,697.8 1853.1,630.0 1874.0,630.0 C1896.2,630.0 1918.4,758.4 1940.6,758.4 C1958.1,758.4 1975.6,643.3 1993.1,643.3 C2016.0,643.3 2038.8,724.0 2061.7,724.0 C2083.9,724.0 2106.1,657.4 2128.3,657.4 C2153.2,657.4 2178.1,768.5 2203.0,768.5 C2223.2,768.5 2243.4,671.6 2263.6,671.6 C2283.1,671.6 2302.5,745.5 2322.0,745.5 C2338.9,745.5 2355.7,683.7 2372.6,683.7 C2384.7,683.7 2396.9,787.9 2409.0,787.9 C2423.1,787.9 2437.2,724.6 2451.3,693.0" fill="none" stroke="#4e6e28" stroke-width="3.2" stroke-linejoin="round"/>
<line x1="436.9" y1="688" x2="2451.5" y2="900.2" stroke="#b53fe6" stroke-width="3.5" stroke-linecap="round"/>
<path d="M426,977.3 L502.8,977.3  C529.0,966.5 555.3,945.0 581.5,945.0 C608.4,945.0 635.3,969.9 662.2,980.6 C682.4,988.7 702.6,1002.8 722.8,1002.8 C744.3,1002.8 765.9,991.5 787.4,983.8 C807.6,976.6 827.8,956.3 848.0,956.3 C869.5,956.3 891.0,972.0 912.5,977.3 C934.7,982.8 956.8,990.6 979.0,990.6 C995.2,990.6 1011.4,982.9 1027.6,977.3 C1047.8,970.3 1067.9,948.3 1088.1,948.3 C1106.3,948.3 1124.5,969.3 1142.7,977.3 C1164.9,987.1 1187.1,1002.0 1209.3,1002.0 C1228.8,1002.0 1248.3,985.3 1267.8,977.3 C1288.0,969.0 1308.1,953.1 1328.3,953.1 C1348.5,953.1 1368.7,970.4 1388.9,978.5 C1407.7,986.0 1426.6,1000.0 1445.4,1000.0 C1465.1,1000.0 1484.9,985.8 1504.6,977.3 C1526.1,968.0 1547.7,945.0 1569.2,945.0 C1590.7,945.0 1612.3,968.7 1633.8,977.3 C1656.0,986.2 1678.2,999.5 1700.4,999.5 C1717.2,999.5 1734.1,984.1 1750.9,977.3 C1772.4,968.6 1794.0,953.1 1815.5,953.1 C1834.3,953.1 1853.2,970.1 1872.0,977.3 C1888.8,983.7 1905.6,994.7 1922.4,994.7 C1939.9,994.7 1957.5,984.9 1975.0,977.3 C1993.1,969.5 2011.3,943.4 2029.4,943.4 C2046.9,943.4 2064.4,968.1 2081.9,977.3 C2098.0,985.7 2114.2,998.7 2130.3,998.7 C2165.3,998.7 2200.3,948.3 2235.3,948.3 C2252.8,948.3 2270.3,970.2 2287.8,977.3 C2306.6,985.0 2325.5,995.5 2344.3,995.5 C2355.1,995.5 2365.8,987.5 2376.6,983.8 C2383.3,981.5 2390.1,979.5 2396.8,977.3 L2451.3,977.3" fill="none" stroke="#7de85a" stroke-width="3.2" stroke-linejoin="round"/>
<polyline points="426.0,370.8 515.5,370.8 611.0,347.3 658.8,370.0 736.8,355.0 804.3,370.0 904.5,345.6 967.4,370.0 1066.4,378.2 1118.8,370.5 1191.0,392.9 1260.9,370.8 1335.4,397.6 1417.0,370.8 1503.1,418.5 1560.2,370.8 1675.1,418.0 1713.0,370.9 1811.0,420.0 1899.3,370.9 1993.4,458.8 2042.0,370.9 2185.5,455.0 2227.0,371.2 2323.9,431.9 2404.1,390.0 2468.2,460.0" fill="none" stroke="#c4342a" stroke-width="4" stroke-linejoin="miter"/>
<polyline points="423.5,379.0 512.0,379.0 606.4,355.0 655.3,378.2 732.1,362.6 798.5,378.2 899.9,353.3 961.6,378.2 1059.4,386.4 1111.3,378.7 1184.0,400.4 1252.7,378.7 1328.4,405.0 1408.8,378.7 1498.5,427.2 1552.0,378.7 1669.3,427.1 1704.2,378.2 1803.2,426.8 1888.6,378.2 1982.8,463.6 2031.3,378.2 2175.3,460.0 2216.8,378.9 2316.2,439.6 2393.0,397.7 2457.1,466.0" fill="none" stroke="#f6ef4c" stroke-width="3.4" stroke-linejoin="miter"/>
<polyline points="576.3,1644.3 590.8,1358.7 795.0,1362.6 922.4,1494.5 1040.2,1282.7 1253.5,1285.8 1281.2,1481.6 1353.2,1613.2 1458.4,1613.2 1525.0,1604.3 1580.3,1437.3 1729.3,1444.6 1808.9,1292.5 1871.0,1291.8 1969.7,1295.7 1985.0,1441.4 2005.3,1642.0 2084.3,1643.6 2114.5,1286.1 2296.0,1286.1 2335.7,1470.0 2378.7,1298.8 2490.0,1300.4" fill="none" stroke="#df3ff0" stroke-width="3.3" stroke-linejoin="miter"/>
<polyline points="440.0,1644.3 576.3,1644.3 586.7,1548.0 800.3,1552.5 922.4,1494.5 1040.2,1282.7 1253.5,1285.8 1323.5,1455.3 1352.4,1575.8 1450.1,1578.6 1498.6,1573.6 1580.3,1435.9 1729.3,1444.6 1808.9,1292.5 1871.0,1291.8 1969.7,1295.7 1981.8,1442.0 2077.3,1471.7 2114.5,1286.1 2296.0,1286.1 2335.7,1471.7 2432.8,1477.1 2490.0,1477.1" fill="none" stroke="#f6ef4c" stroke-width="3.3" stroke-linejoin="miter"/>
<path d="M510.5,39 L527,55.5 M527,39 L510.5,55.5" stroke="#4b9be3" stroke-width="2.3"/>
<path d="M255.8,281 L264.4,273.7 L273.2,281" fill="none" stroke="#fff" stroke-width="2.6"/>
<path d="M255.8,824.1 L264.4,831.3 L273.2,824.1" fill="none" stroke="#fff" stroke-width="2.6"/>
<path d="M255.8,1022 L264.4,1028.7 L273.2,1022" fill="none" stroke="#fff" stroke-width="2.6"/>
<path d="M255.8,1120 L264.4,1126.7 L273.2,1120" fill="none" stroke="#fff" stroke-width="2.6"/>
<path d="M255.8,1217.2 L264.4,1223.8 L273.2,1217.2" fill="none" stroke="#fff" stroke-width="2.6"/>
<g transform="translate(30,20) scale(0.05540)"><path d="M1120,245 C850,400 560,700 440,1100 L560,1100 C590,980 620,900 660,880 C800,850 1000,850 1140,865 L1080,625 L812,684 L1065,545 Z" fill="#fff"/><path d="M225,1120 C450,1112 850,1100 1135,1015 L1122,1135 L1068,1150 L1060,1192 L1125,1186 L1112,1268 C760,1292 460,1235 225,1120 Z" fill="#fff"/><path d="M1168,1102 L1262,1088 L1252,1180 L1160,1192 Z" fill="#fff"/><path d="M1222,935 L1352,898 L1338,1022 L1210,1052 Z" fill="#fff"/></g>
<g transform="translate(2772.61,22.27) scale(0.03727)"><path d="M1120,245 C850,400 560,700 440,1100 L560,1100 C590,980 620,900 660,880 C800,850 1000,850 1140,865 L1080,625 L812,684 L1065,545 Z" fill="#fff"/><path d="M225,1120 C450,1112 850,1100 1135,1015 L1122,1135 L1068,1150 L1060,1192 L1125,1186 L1112,1268 C760,1292 460,1235 225,1120 Z" fill="#fff"/><path d="M1168,1102 L1262,1088 L1252,1180 L1160,1192 Z" fill="#fff"/><path d="M1222,935 L1352,898 L1338,1022 L1210,1052 Z" fill="#fff"/></g>
<g fill="none" stroke="#fff" stroke-width="2.3" stroke-linejoin="miter"><path d="M2658.5,54.5 L2675.5,38 L2692.5,54.5"/><path d="M2662.7,50 L2662.7,66.9 L2688.1,66.9 L2688.1,50"/><path d="M2672.2,66.9 L2672.2,57.5 A3.15,3.15 0 0 1 2678.5,57.5 L2678.5,66.9"/></g>
<g fill="none" stroke="#fff" stroke-width="2.3"><path d="M2726,37 L2734.2,37" stroke-linecap="round"/><path d="M2717.2,66.5 L2717.2,54 C2717.2,46.5 2723,42 2730,42 C2737,42 2742.8,46.5 2742.8,54 L2742.8,66.5"/><path d="M2714,67.2 L2746,67.2" stroke-width="2.6"/><path d="M2725.8,68.3 A4.7,4 0 0 0 2735.2,68.3"/><path d="M2732.6,49.2 Q2736.5,51.5 2737.7,55.7" stroke-linecap="round"/></g>
<g fill="none" stroke="#fff" stroke-width="2.2"><path d="M2914.8,50 A19.5,19.3 0 0 1 2951.5,42"/><path d="M2953.8,55 A19.5,19.3 0 0 1 2917,62.5"/></g><path d="M2954.3,38.5 L2954.6,46.2 L2947.6,45.4 Z" fill="#fff"/><path d="M2913.8,58.8 L2921.9,58.2 L2914.2,66 Z" fill="#fff"/>
<g fill="none" stroke="#fff" stroke-width="2.7" stroke-linecap="butt"><path d="M2984.5,46.6 L2984.5,31.4 L2999.7,31.4"/><path d="M2985.5,32.5 L2997.8,45.3"/><path d="M3011,31.4 L3026.4,31.4 L3026.4,46.6"/><path d="M3025.3,32.5 L3012.5,45"/><path d="M2984.5,58 L2984.5,73.5 L2999.7,73.5"/><path d="M2997.3,60.2 L2985.6,72.2"/><path d="M3011,73.5 L3026.4,73.5 L3026.4,58"/><path d="M3013,60.2 L3025.3,72.2"/></g>
<g fill="none" stroke="#fff" stroke-width="2.2"><path d="M36,167.8 A11.5,12.3 0 0 0 28.5,175.5"/><path d="M28.2,179 A11.5,12.3 0 0 0 50,184"/><path d="M50.5,180 A11.5,12.3 0 0 0 49.5,174"/></g><circle cx="39.3" cy="179.5" r="5.8" fill="#fff"/><circle cx="39.8" cy="167.6" r="2.6" fill="#fff"/><circle cx="28.3" cy="176.8" r="2.4" fill="#fff"/><circle cx="50.2" cy="184.3" r="2.4" fill="#fff"/>
<g fill="none" stroke="#b8c4da" stroke-width="1.8"><rect x="28.5" y="268.6" width="16.2" height="14" rx="2"/><path d="M36.5,282.6 L36.5,286.4 M31.8,286.4 L41.6,286.4"/></g><g stroke="#b8c4da" stroke-width="1.6"><path d="M32.2,279.8 L32.2,276.8 M35.1,279.8 L35.1,274.5 M38.2,279.8 L38.2,276 M41,279.8 L41,272.5"/></g>
<g fill="none" stroke="#fff" stroke-width="1.3"><path d="M30.2,726.5 L32.5,721.3 L38.8,721.3 L41.5,726"/><path d="M32.2,730.4 L30.2,726.5"/><path d="M27.4,730.4 L36.2,730.4"/><path d="M29.8,733.6 L26.3,740 L30,746.3 L37.8,746.3 L41.3,740.5"/><path d="M44.2,729.2 L49.4,729.2 L52,734.4 L49.4,739.3 L45.6,739.3 L47.8,743.5"/><path d="M42.3,735.5 L44.5,738.5"/></g>
<g stroke="#fff" stroke-width="1.9"><path d="M27.2,824.4 L45.6,824.4 M27.2,832 L45.6,832 M27.2,839.5 L45.6,839.5"/></g><g fill="#101d37" stroke="#fff" stroke-width="1.5"><circle cx="32.8" cy="824.4" r="1.9"/><circle cx="39.8" cy="832" r="1.9"/><circle cx="32.8" cy="839.5" r="1.9"/></g>
<g fill="none" stroke="#fff" stroke-width="2.1" stroke-linejoin="round"><path d="M39,924.5 L45.2,928 L39,931.6 L32.8,928 Z"/><path d="M32.8,928 L32.8,934 L39,937.5 L45.2,934 L45.2,928"/><path d="M32.8,931 L39,934.6 L45.2,931"/></g>
<g fill="none" stroke="#dfe5f0" stroke-width="1.7"><path d="M37.5,1039.8 A10.3,12.8 0 1 1 46.5,1031.5"/><path d="M36.5,1017.5 L36.5,1027.3 L43.8,1027.3"/><path d="M38.5,1039.5 L41,1035.5 L43.5,1037 L46.5,1031.8"/></g>
<g fill="none" stroke="#fff" stroke-width="2"><path d="M29.5,1124 L35.2,1118.6 L38.5,1121.2 L42.5,1117"/><path d="M30.3,1127 L30.3,1132.8 M34.4,1123.8 L34.4,1132.8 M38.6,1126 L38.6,1132.8 M42.6,1124 L42.6,1132.8"/></g><path d="M39.5,1116 L43.8,1116 L43.8,1120.5 Z" fill="#fff"/>
<polygon points="33.62,1209.89 39.38,1209.89 39.67,1212.54 41.71,1213.96 43.76,1212.94 46.65,1218.95 44.88,1220.58 44.88,1223.42 46.65,1225.05 43.76,1231.06 41.71,1230.04 39.67,1231.46 39.38,1234.11 33.62,1234.11 33.33,1231.46 31.29,1230.04 29.24,1231.06 26.35,1225.05 28.12,1223.42 28.12,1220.58 26.35,1218.95 29.24,1212.94 31.29,1213.96 33.33,1212.54" fill="none" stroke="#dde3ee" stroke-width="1.8" stroke-linejoin="round"/><ellipse cx="36.5" cy="1222" rx="3.6" ry="4.6" fill="none" stroke="#dde3ee" stroke-width="1.8"/>
</svg>
</body></html>
